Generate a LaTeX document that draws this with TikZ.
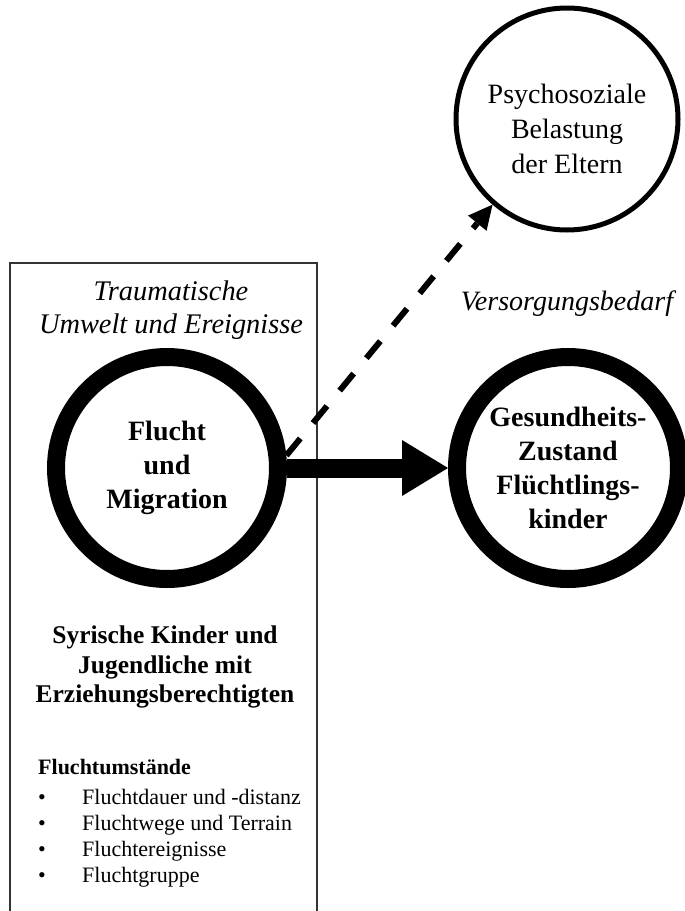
\documentclass[tikz,border=0pt]{standalone}
\usepackage{fontspec}
\setmainfont{Liberation Serif}
\usetikzlibrary{arrows.meta, positioning}

\begin{document}
\begin{tikzpicture}[x=1pt, y=-1pt,
  bigring/.style={circle, draw, line width=18pt, minimum size=222pt, inner sep=0pt,
    align=center, font=\bfseries\fontsize{28}{34}\selectfont},
  thinring/.style={circle, draw, line width=5pt, minimum size=222pt, inner sep=0pt,
    align=center, font=\fontsize{28}{35}\selectfont},
  listitem/.style={anchor=base west, inner sep=0pt, font=\fontsize{22}{26}\selectfont}]
  \useasboundingbox (0,0) rectangle (685,911);
  \clip (0,0) rectangle (685,911);
  % Frame of the left column
  \draw[line width=1.5pt, black!80] (10,263) rectangle (317,920);
  \node[align=center, font=\itshape\fontsize{28.4}{33}\selectfont] (env) at (171,310)
    {Traumatische\\Umwelt und Ereignisse};
  % The three circles
  \node[bigring] (flucht) at (167,468) {Flucht\\und\\Migration};
  \node[bigring] (gesund) at (568,468) {Gesundheits-\\Zustand\\Flüchtlings-\\kinder};
  \node[thinring] (eltern) at (567,119) {\rule{0pt}{40pt}Psychosoziale\\Belastung\\der Eltern};
  \node[font=\itshape\fontsize{28}{33}\selectfont] (bedarf) at (567,304) {Versorgungsbedarf};
  % Arrows
  \draw[line width=19pt, -{Triangle[length=46pt, width=56pt, line width=0pt]}]
    (flucht.east) -- (gesund.west);
  \draw[line width=6pt, dash pattern=on 22pt off 20pt,
        -{Triangle[length=24pt, width=24pt, line width=0pt]}]
    (flucht.6) -- (eltern.229);
  % Sample and list of circumstances
  \node[align=center, font=\bfseries\fontsize{25.5}{29.5}\selectfont] (sample) at (165,667)
    {Syrische Kinder und\\Jugendliche mit\\Erziehungsberechtigten};
  \node[listitem, font=\bfseries\fontsize{22}{26}\selectfont] (umst) at (38,774) {Fluchtumstände};
  \foreach \txt [count=\i] in {Fluchtdauer und -distanz, Fluchtwege und Terrain,
      Fluchtereignisse, Fluchtgruppe} {
    \node[listitem, anchor=base] (dot\i) at (42,{778+26*\i}) {•};
    \node[listitem] (item\i) at (82,{778+26*\i}) {\txt};
  }
\end{tikzpicture}
\end{document}
